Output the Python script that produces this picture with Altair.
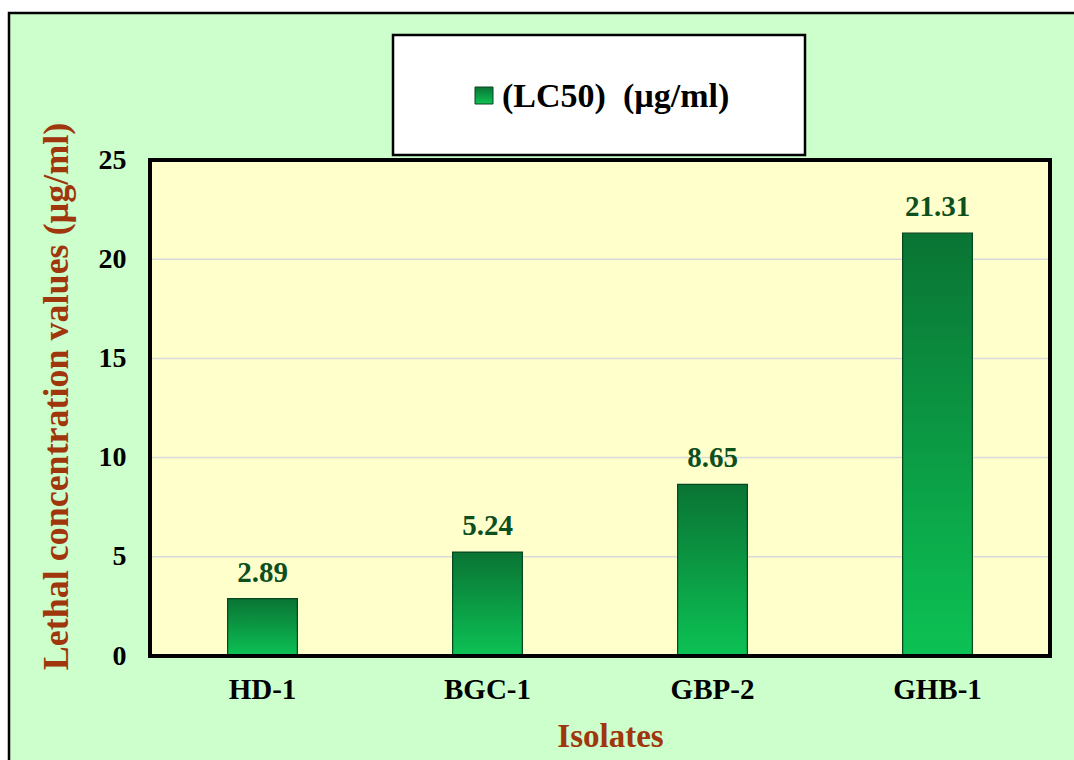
import altair as alt
import pandas as pd

isolates = ["HD-1", "BGC-1", "GBP-2", "GHB-1"]
lc50 = [2.89, 5.24, 8.65, 21.31]
y_ticks = [0, 5, 10, 15, 20, 25]
grid_values = [5, 10, 15, 20]
legend_label = "(LC50)\u00a0\u00a0(\u00b5g/ml)"
y_title = "Lethal concentration values (\u00b5g/ml)"
x_title = "Isolates"

W, H = 900, 496
FONT = "Liberation Serif"
TITLE_COLOR = "#a0360c"
LABEL_GREEN = "#0e4f1e"

df = pd.DataFrame({"isolate": isolates, "lc50": lc50})
grid_df = pd.DataFrame({"v": grid_values})
one = alt.Data(values=[{"k": 1}])

yscale = alt.Scale(domain=[0, 25], nice=False, zero=True)
xscale = alt.Scale(paddingInner=0.69, paddingOuter=0.345)

y_axis = alt.Axis(
    values=y_ticks, title=y_title, grid=False, domain=False, ticks=False, tickSize=0,
    labelFont=FONT, labelFontWeight="bold", labelFontSize=28, labelColor="black",
    labelPadding=24, titleFont=FONT, titleFontWeight="bold", titleFontSize=36,
    titleColor=TITLE_COLOR, titleAngle=-90, titleX=-94, titleY=H / 2 - 12,
    titleAlign="center", titleBaseline="middle", zindex=1,
)
x_axis = alt.Axis(
    title=x_title, labelAngle=0, grid=False, domain=False, ticks=False, tickSize=0,
    labelFont=FONT, labelFontWeight="bold", labelFontSize=29, labelColor="black",
    labelPadding=19, titleFont=FONT, titleFontWeight="bold", titleFontSize=33,
    titleColor=TITLE_COLOR, titleX=460, titleY=80, titleAlign="center",
    titleBaseline="middle", zindex=1,
)

outer = alt.Chart(one).mark_rect(fill="#ccffcc", stroke="black", strokeWidth=2.5).encode(
    x=alt.value(-141), x2=alt.value(1000), y=alt.value(-147), y2=alt.value(700)
)
plotbg = alt.Chart(one).mark_rect(fill="#ffffcc").encode(
    x=alt.value(0), x2=alt.value(W), y=alt.value(0), y2=alt.value(H)
)
grid = alt.Chart(grid_df).mark_rule(color="#d9d9d9", strokeWidth=1.5).encode(
    y=alt.Y("v:Q", scale=yscale, axis=y_axis), x=alt.value(0), x2=alt.value(W)
)

gradient = alt.LinearGradient(
    gradient="linear",
    stops=[
        alt.GradientStop(color="#0a7434", offset=0),
        alt.GradientStop(color="#0b9a44", offset=0.5),
        alt.GradientStop(color="#0cc254", offset=1),
    ],
    x1=0, x2=0, y1=0, y2=1,
)

bars = alt.Chart(df).mark_bar(color=gradient, stroke="#06451f", strokeWidth=1.2).encode(
    x=alt.X("isolate:N", sort=isolates, scale=xscale, axis=x_axis),
    y=alt.Y("lc50:Q", scale=yscale, axis=y_axis),
)
labels = alt.Chart(df).mark_text(
    font=FONT, fontWeight="bold", fontSize=29, color=LABEL_GREEN,
    baseline="alphabetic", dy=-17,
).encode(
    x=alt.X("isolate:N", sort=isolates, scale=xscale, axis=x_axis),
    y=alt.Y("lc50:Q", scale=yscale, axis=y_axis),
    text=alt.Text("lc50:Q", format=".2f"),
)

border = alt.Chart(one).mark_rect(fill="transparent", stroke="black", strokeWidth=4).encode(
    x=alt.value(0), x2=alt.value(W), y=alt.value(0), y2=alt.value(H)
)

leg_box = alt.Chart(one).mark_rect(fill="white", stroke="black", strokeWidth=2.5).encode(
    x=alt.value(243), x2=alt.value(655), y=alt.value(-125), y2=alt.value(-5)
)
leg_sym = alt.Chart(one).mark_rect(
    color=alt.LinearGradient(
        gradient="linear",
        stops=[alt.GradientStop(color="#0a7434", offset=0), alt.GradientStop(color="#0cc254", offset=1)],
        x1=0, x2=0, y1=0, y2=1,
    ),
    stroke="#06451f", strokeWidth=1,
).encode(x=alt.value(325), x2=alt.value(343), y=alt.value(-73), y2=alt.value(-56))
leg_text = alt.Chart(one).mark_text(
    text=legend_label, font=FONT, fontWeight="bold", fontSize=34, color="black",
    align="left", baseline="middle",
).encode(x=alt.value(352), y=alt.value(-63))

chart = alt.layer(
    outer, plotbg, grid, bars, labels, border, leg_box, leg_sym, leg_text
).properties(
    width=W, height=H,
    autosize=alt.AutoSizeParams(type="none"),
    padding={"left": 150, "top": 160, "right": 24, "bottom": 104},
    background="white",
).configure_view(stroke=None)

chart.save("out.html", embed_options={"renderer": "svg", "actions": False})
